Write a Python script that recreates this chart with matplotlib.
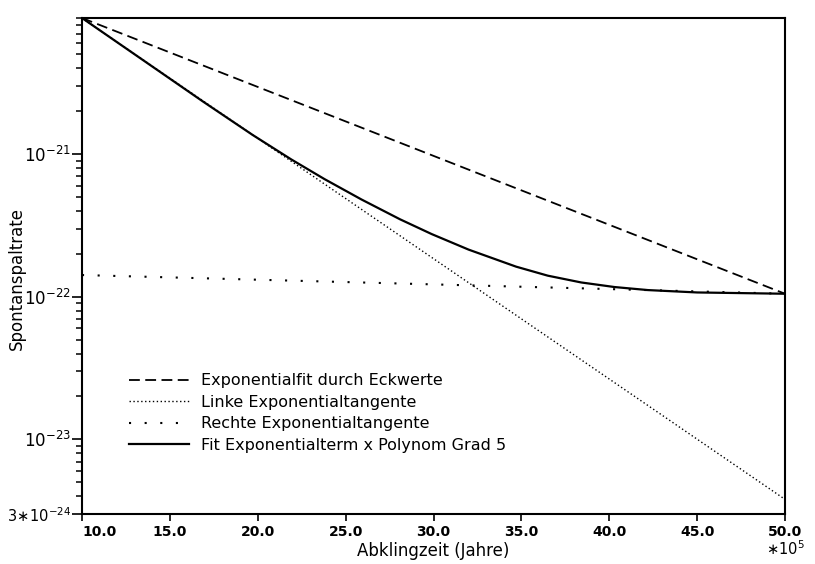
import numpy as np
import matplotlib.pyplot as plt

# Abklingzeit in units of 1e5 Jahre
x_ends = [10.0, 50.0]
eck_fit = [9.0e-21, 1.05e-22]          # Exponentialfit durch Eckwerte
linke_tangente = [9.0e-21, 3.8e-24]    # Linke Exponentialtangente
rechte_tangente = [1.42e-22, 1.05e-22]  # Rechte Exponentialtangente

# Fit Exponentialterm x Polynom Grad 5
fit_x = [10.0, 13.2, 16.9, 19.7, 21.9, 23.8, 25.9, 28.1, 29.9, 32.0,
         34.7, 36.5, 38.4, 40.3, 42.2, 45.0, 50.0]
fit_y = [9.0e-21, 4.81e-21, 2.33e-21, 1.365e-21, 9.19e-22, 6.68e-22,
         4.81e-22, 3.49e-22, 2.75e-22, 2.14e-22, 1.626e-22, 1.406e-22,
         1.26e-22, 1.17e-22, 1.114e-22, 1.072e-22, 1.05e-22]

xticks = [10.0, 15.0, 20.0, 25.0, 30.0, 35.0, 40.0, 45.0, 50.0]
yticks = [3e-24, 1e-23, 1e-22, 1e-21]
ytick_labels = [r'$3\!\ast\!10^{-24}$', r'$10^{-23}$', r'$10^{-22}$', r'$10^{-21}$']

fig = plt.figure(figsize=(8.15, 5.64), dpi=100)
ax = fig.add_axes([82/815, 1 - 514/564, 703/815, 496/564])

ax.plot(x_ends, eck_fit, color='black', lw=1.3, dashes=(6, 3),
        label='Exponentialfit durch Eckwerte')
ax.plot(x_ends, linke_tangente, color='black', lw=1.0, dashes=(1, 1.8),
        label='Linke Exponentialtangente')
ax.plot(x_ends, rechte_tangente, color='black', lw=1.5, dashes=(1, 6.5),
        label='Rechte Exponentialtangente')
ax.plot(fit_x, fit_y, color='black', lw=1.6, solid_joinstyle='round',
        label='Fit Exponentialterm x Polynom Grad 5')

ax.set_yscale('log')
ax.set_xlim(10, 50)
ax.set_ylim(3e-24, 9.0e-21)

for sp in ax.spines.values():
    sp.set_linewidth(1.5)

ax.set_xticks(xticks)
ax.set_xticklabels(['%.1f' % v for v in xticks], fontsize=10, fontweight='bold')
ax.get_xticklabels()[0].set_horizontalalignment('left')
ax.set_yticks(yticks)
ax.set_yticklabels(ytick_labels, fontsize=12)
ax.get_yticklabels()[0].set_fontsize(10.5)
ax.yaxis.set_minor_locator(plt.matplotlib.ticker.LogLocator(base=10, subs=np.arange(2, 10)))
ax.yaxis.set_minor_formatter(plt.NullFormatter())
ax.tick_params(axis='y', which='major', length=7, width=1.2, pad=1)
ax.tick_params(axis='y', which='minor', length=4, width=1.1)
ax.tick_params(axis='x', which='major', length=5, width=1.2, pad=3)

ax.set_xlabel('Abklingzeit (Jahre)', fontsize=12, labelpad=2)
fig.text(17/815, 1 - 278/564, 'Spontanspaltrate', rotation=90,
         ha='center', va='center', fontsize=12)
ax.text(1.0, -0.052, r'${\ast}10^{5}$', transform=ax.transAxes,
        ha='center', va='top', fontsize=10.5)

ax.legend(loc='upper left', bbox_to_anchor=(0.067, 0.284), frameon=False,
          fontsize=11.5, handlelength=3.75, handletextpad=0.75,
          labelspacing=0.41, borderpad=0, borderaxespad=0)

plt.savefig('out.png', dpi=100)
plt.close()
